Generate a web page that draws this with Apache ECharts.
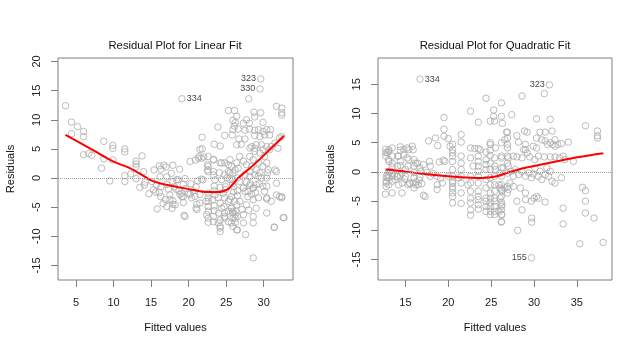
<!DOCTYPE html>
<html>
<head>
<meta charset="utf-8">
<script src="https://cdn.jsdelivr.net/npm/echarts@6/dist/echarts.min.js"></script>
<style>
  html, body { margin: 0; padding: 0; background: #ffffff; }
  #chart { width: 641px; height: 350px; }
</style>
</head>
<body>
<div id="chart"></div>
<script>
// residuals vs fitted values, linear fit (mpg ~ horsepower)
const linearPoints = [
  [3.6,12.4],[4.4,9.6],[4.4,7.6],[5.2,8.8],[6.0,8.0],[6.0,7.1],[6.0,4.0],[6.7,4.2],[7.1,3.9],[8.7,6.3],
  [8.4,1.7],[8.7,3.3],[9.5,-0.5],[9.9,5.6],[9.9,5.1],[9.9,3.1],[11.5,5.0],[11.5,4.5],[11.5,0.4],[11.5,-0.6],
  [12.3,0.7],[13.0,2.9],[13.0,2.4],[13.0,1.9],[13.0,-0.1],[13.8,3.8],[13.5,-1.6],[14.0,1.1],[14.2,-0.7],[14.1,-1.2],
  [14.7,-2.7],[15.1,-0.6],[15.3,-2.0],[15.4,1.4],[15.6,-2.4],[15.8,-5.3],
  [16.1,2.1],[16.3,1.5],[16.2,0.2],[15.7,-1.2],[16.3,-1.5],[16.1,-2.5],[16.3,-3.2],[16.7,2.2],[17.0,1.9],[17.1,0.2],
  [17.1,-1.1],[17.3,-1.9],[17.5,-2.9],[17.7,0.8],[17.9,2.2],[17.9,-0.6],[18.1,-1.5],[17.9,-3.9],[18.3,-1.9],[18.4,-0.3],
  [18.8,1.5],[19.1,-2.6],[19.1,-3.2],[19.3,-4.2],[19.5,-0.1],[19.6,-1.8],[19.5,-6.6],[19.4,-6.4],[16.6,-4.4],[17.1,-4.9],
  [17.9,-4.5],[17.8,-5.2],[16.9,-3.7],[17.5,-3.7],[18.2,-4.6],[18.6,-0.3],[18.85,-2.8],[19.3,-3.2],[20.2,-2.8],[20.4,-3.4],
  [21.1,-4.5],[21.1,-5.4],[20.2,2.85],[20.9,3.1],[21.4,3.7],[21.7,3.4],[21.8,5.0],[21.8,7.0],[21.7,-0.2],[21.9,-0.3],
  [19.3,-1.1],[18.7,-2.2],[20.85,-3.15],[21.0,-5.15],[21.5,-4.3],[20.3,-1.0],[20.6,-2.2],[21.0,-1.5],[21.5,-2.8],[20.0,-2.6],
  [21.2,-0.5],
  [22.6,2.0],[22.6,1.1],[22.6,-2.6],[22.6,-3.4],[22.6,-4.0],[22.6,-4.9],[22.6,-5.7],[22.4,-6.3],[22.6,-6.9],[22.5,2.3],
  [22.5,1.4],[22.6,-7.6],[22.3,-4.0],
  [23.2,-3.7],[23.3,-6.6],[23.3,-7.5],[23.3,3.2],[23.3,1.1],[23.3,0.5],[23.4,-1.4],[23.4,-2.2],[23.4,-4.8],[23.4,-5.6],
  [24.0,-6.0],[24.2,-7.2],[24.2,-8.3],[24.2,-9.2],[23.95,-3.4],[24.2,-4.3],[24.4,-5.2],[23.5,-2.9],[24.4,-0.3],[23.5,-0.3],
  [23.95,-7.7],[24.2,-8.6],[24.2,-1.6],[24.1,0.9],[24.2,2.6],[23.9,8.75],
  [24.8,-3.4],[24.8,-6.0],[24.8,0.6],[24.6,-2.6],[24.8,-6.9],[25.3,-4.0],[25.3,-7.5],[25.3,1.1],[25.5,-0.3],[24.7,-4.9],
  [24.8,-6.6],[25.3,-5.7],[24.9,-1.5],[24.9,-2.0],
  [25.5,-3.7],[25.7,-5.15],[25.85,-6.0],[25.9,-6.9],[26.2,-7.6],[26.3,-5.7],[26.5,-6.6],[26.5,-8.9],[25.7,-3.2],[25.7,-5.2],
  [25.7,-7.7],[25.9,-5.7],[25.9,-8.3],[26.2,-6.3],[26.2,-6.9],[26.4,-4.6],[26.4,-8.9],[26.6,1.7],[26.0,-1.5],[26.0,-2.4],
  [26.5,-3.0],[26.1,-4.0],[26.5,-2.2],
  [26.8,-4.0],[27.3,-1.7],[27.5,-2.3],[27.7,-4.6],[27.3,-7.7],[27.6,-9.7],[27.9,-3.2],[28.4,-2.8],[28.6,-1.7],[28.6,-3.7],
  [28.6,-6.6],[28.6,-7.7],[29.0,-5.2],[29.3,-3.4],[30.1,-2.3],[30.4,-3.4],[30.4,-6.0],[31.0,-4.0],[31.4,-8.4],[31.7,-2.9],
  [32.1,-3.2],[32.4,-3.4],[32.6,-6.8],[28.6,-13.7],[27.1,-5.4],[27.3,-6.3],[28.0,-5.5],[28.9,-2.5],[29.4,-1.0],[28.2,-1.0],
  [28.0,13.6],[31.7,12.3],[32.4,12.0],[32.4,11.2],[32.4,10.8],[25.3,11.6],[26.1,11.6],[28.7,11.3],[29.6,11.2],[26.4,10.6],
  [28.8,10.5],[25.9,9.9],[26.2,9.5],[27.3,9.4],[27.7,10.0],[28.1,9.4],[29.9,9.55],[26.1,8.9],[25.9,8.3],[26.6,8.4],
  [27.5,8.2],[28.1,8.4],[28.8,8.2],[29.3,8.3],[29.9,8.0],[30.4,8.3],[30.9,8.3],[24.8,7.3],[25.8,7.4],[26.7,6.7],
  [27.5,6.7],[28.8,7.3],[29.5,7.1],[30.1,7.4],[30.8,7.4],[23.4,5.8],[24.2,5.5],[26.4,5.7],[27.0,5.8],[28.4,5.4],
  [28.8,5.1],[29.0,5.7],[29.7,5.7],[29.9,4.9],[30.4,5.4],[30.8,4.9],[31.0,5.4],[31.9,5.1],[31.5,6.0],[32.1,6.9],
  [32.4,7.1],[21.5,4.9],[21.3,3.4],[22.0,3.6],[22.6,3.7],[23.3,3.1],[24.4,2.6],[24.8,2.6],[25.3,2.3],
  [25.5,3.15],[25.7,2.0],[25.9,0.9],[26.2,1.4],[26.4,2.6],[26.8,3.7],[27.3,2.9],[27.7,2.3],[28.15,3.7],[28.4,2.0],
  [28.6,3.15],[29.0,1.4],[29.3,2.6],[29.5,0.9],[29.9,2.0],[30.1,3.7],[30.4,2.6],[30.6,1.4],[29.5,4.3],[28.8,4.6],
  [28.15,5.15],[25.5,0.9],[25.1,0.0],[25.9,-0.3],[26.5,0.0],[25.85,-1.0],[26.8,-0.6],[27.5,0.6],[28.15,1.1],[28.15,0.3],
  [28.8,0.6],[29.3,0.3],[29.7,0.0],[30.4,0.0],[30.5,0.9],[31.5,1.4],[31.7,1.1],[31.7,-0.9],[30.4,-1.4],[29.9,-1.4],
  [29.0,-1.15],[28.6,-1.7],[28.15,-1.3],[27.7,-0.7],[27.3,-1.7],[27.9,-2.3],[32.7,-6.8],[31.4,-8.5],[30.4,-3.6],[32.4,-3.2]
];
const linearTagged = [['334', 19.1, 13.6], ['323', 29.6, 17.0], ['330', 29.5, 15.3]];
const linearSmoothX = [3.6, 5, 7.5, 10, 11.8, 13.3, 15, 16.5, 18.2, 20.4, 22.6, 24.0, 25.3, 26.0, 26.6, 28.7, 30.5, 32.7];
const linearSmoothY = [7.4, 6.4, 4.6, 2.8, 1.9, 0.9, -0.4, -1.0, -1.45, -2.0, -2.4, -2.4, -1.85, -0.9, 0.0, 2.3, 4.5, 7.25];

// residuals vs fitted values, quadratic fit
const quadPoints = [
  [12.7,3.9],[12.7,3.3],[12.7,2.7],[12.75,-0.75],[12.75,-1.6],[12.75,-2.5],[12.67,-3.8],[12.75,-1.9],[12.87,-1.0],[12.98,-0.5],
  [13.06,3.8],[12.87,3.3],[13.06,2.1],[13.45,4.1],[13.25,0.1],[13.06,3.5],[13.06,1.8],[13.06,0.1],[13.06,-1.0],[13.06,-2.2],
  [13.45,2.7],[13.45,1.5],[13.45,0.85],[13.45,-0.2],[13.45,-0.75],[13.45,-1.6],[13.45,-3.6],
  [14.1,2.7],[14.1,1.0],[14.1,-0.75],[14.2,-2.2],[14.4,4.3],[14.4,3.7],[14.4,1.8],[14.4,1.1],[14.6,-0.2],[14.6,-1.9],[14.6,-3.6],
  [15.0,0.4],[15.0,-0.75],[15.2,4.1],[15.2,2.4],[15.3,1.0],[15.3,-2.2],[15.5,-1.9],
  [15.8,4.4],[15.9,3.8],[16.0,2.1],[16.0,1.0],[16.0,-0.1],[16.0,-1.0],[16.0,-2.75],[16.2,-2.2],[16.4,1.5],[16.6,-1.4],
  [16.7,0.7],[16.8,0.1],[17.1,1.25],[17.1,-4.0],[17.3,-4.2],[16.9,-2.0],
  [14.2,2.7],[14.8,3.8],[14.8,3.0],[15.4,3.8],[15.4,2.1],[16.2,1.5],[13.8,-1.3],[14.0,-0.8],[14.4,-0.7],[14.9,-1.2],
  [15.5,-2.0],[15.9,-1.9],[16.2,-1.7],[16.5,-2.2],[16.7,-0.9],
  [17.7,5.3],[18.5,5.8],[18.76,4.5],[18.95,1.7],[19.5,9.3],[19.5,7.3],[19.5,6.1],[20.0,5.7],[20.2,4.4],[20.0,-0.75],
  [18.7,-0.75],[18.7,-2.2],[18.7,-3.0],[17.9,1.0],[17.9,-0.75],[17.8,1.8],[19.6,1.8],[18.2,-0.3],[19.3,-1.9],[19.1,-1.1],
  [17.5,-0.1],[19.4,2.0],
  [20.5,4.7],[20.5,3.8],[20.5,3.25],[20.5,2.7],[20.5,1.8],[20.5,0.4],[20.5,-0.75],[20.5,-1.6],[20.5,-1.9],[20.5,-2.5],
  [20.5,-2.9],[20.5,-3.6],[20.5,-4.2],[20.5,-5.3],
  [21.5,6.4],[21.5,5.1],[21.5,2.7],[21.5,1.5],[21.5,0.4],[21.5,-0.75],[21.5,-1.9],[21.5,-3.6],[21.5,-5.4],[21.2,-1.0],
  [22.6,10.4],[22.6,4.1],[22.6,2.4],[22.6,-0.75],[22.6,-1.9],[22.6,-3.3],[22.6,-4.5],[22.6,-5.3],[22.6,-6.5],[22.6,-7.4],
  [22.3,-2.2],[22.9,1.0],
  [23.5,8.5],[23.5,4.0],[23.5,2.7],[23.5,1.8],[23.5,1.0],[23.5,0.1],[23.5,-0.75],[23.5,-1.9],[23.5,-3.3],[23.5,-4.2],
  [23.5,-4.75],[23.5,-5.6],[23.5,-6.35],[23.1,4.0],[23.7,3.8],
  [24.4,12.6],[24.4,3.4],[24.4,2.1],[24.4,1.25],[24.4,0.4],[24.4,-1.3],[24.4,-2.75],[24.4,-4.5],[24.4,-5.0],[24.4,-5.9],
  [24.4,-6.75],[24.9,4.7],[24.9,3.7],
  [24.9,8.7],[24.9,5.0],[24.9,2.8],[24.9,1.5],[24.9,0.4],[24.9,-1.0],[24.9,-2.2],[24.9,-3.6],[24.9,-4.5],[24.9,-5.3],
  [24.9,-5.9],[24.9,-6.75],[24.9,-7.3],
  [25.3,10.6],[25.3,9.5],[25.4,8.7],[25.4,2.4],[25.4,1.0],[25.4,-0.75],[25.4,-2.2],[25.4,-3.3],[25.4,-4.5],[25.4,-5.0],
  [25.4,-5.9],[25.4,-6.75],[25.4,-7.3],[25.5,4.1],
  [26.2,11.8],[26.2,9.5],[26.2,2.4],[26.2,0.7],[26.2,-0.75],[26.2,-2.2],[26.2,-3.0],[26.2,-4.2],[26.2,-5.2],[26.2,-5.9],
  [26.2,-6.5],[26.2,-7.3],[26.2,-8.6],[26.3,8.3],[26.2,5.0],[26.2,2.7],
  [26.9,6.8],[26.9,5.8],[26.9,4.7],[26.9,2.7],[26.9,1.5],[26.9,-0.2],[26.9,-2.5],[26.9,-3.6],
  [28.6,13.0],[27.4,9.8],[30.3,9.1],[31.9,9.0],[36.0,7.9],[37.4,7.0],[37.4,6.2],[37.4,5.8],[26.8,6.8],[28.0,6.2],
  [28.9,7.0],[29.2,6.8],[30.7,6.8],[31.3,6.8],[32.1,7.0],[26.6,5.5],[26.9,4.1],[28.2,5.1],[29.0,4.7],[29.0,3.8],
  [30.3,5.8],[30.3,4.1],[30.9,5.5],[31.3,5.3],[31.6,4.7],[31.9,5.0],[32.45,5.5],[32.45,4.4],[32.8,4.7],[33.2,4.86],
  [34.0,5.1],[27.0,2.4],[27.6,2.7],[28.0,2.57],[28.6,2.4],[29.2,3.25],[29.5,2.57],[30.1,2.1],[31.2,2.57],[31.9,2.57],
  [32.45,2.57],[33.4,2.7],[33.6,2.1],[31.2,13.4],[28.8,3.8],[29.9,4.4],[30.5,2.7],[32.2,4.7],[33.0,2.4],[34.6,1.8],
  [25.47,0.4],[26.05,-0.2],[26.4,0.7],[27.0,1.0],[27.3,0.1],[27.6,-0.75],[27.8,0.4],[28.2,-0.46],[28.6,0.1],[29.0,-0.75],
  [29.4,-0.2],[29.7,-1.0],[29.9,-0.35],[30.1,0.6],[30.5,-0.75],[30.7,0.1],[30.9,-1.3],[31.3,-0.46],[31.5,0.7],[31.7,-0.75],
  [31.9,0.1],[32.1,-1.6],[32.45,-1.9],[33.2,-1.0],
  [35.35,-12.3],[38.07,-12.07],[35.66,-2.64],[36.0,-3.2],[36.0,-5.0],[36.0,-7.04],[37.0,-7.9],[33.4,-6.2],[33.4,-8.9],[28.1,-10.0],
  [29.73,-7.9],[29.73,-8.6],[28.6,-6.5],[28.0,-5.0],[31.3,-5.15],[30.3,-4.2],[30.0,-4.5],[30.5,-4.5],[29.7,-5.0],[29.0,-3.6],
  [29.0,-4.75],[28.4,-2.75],[27.6,-2.5],[27.2,-1.9],[27.0,-3.0],[26.6,-2.75],[25.9,-2.2],[26.05,-2.75],[26.25,-3.3],[26.05,-4.47],
  [26.25,-5.6],[25.9,-6.75],[26.25,-7.3],[26.2,-8.5]
];
const quadTagged = [['334', 16.7, 15.9], ['323', 31.8, 14.9], ['155', 29.7, -14.7]];
const quadSmoothX = [12.7, 15, 17.5, 20, 22, 24, 25.5, 27, 29, 31, 33, 35, 38.1];
const quadSmoothY = [0.4, 0.05, -0.4, -0.75, -0.95, -1.05, -0.8, -0.1, 0.7, 1.3, 1.9, 2.5, 3.2];

const linearTicksX = [5, 10, 15, 20, 25, 30];
const linearTicksY = [-15, -10, -5, 0, 5, 10, 15, 20];
const quadTicksX = [15, 20, 25, 30, 35];
const quadTicksY = [-15, -10, -5, 0, 5, 10, 15];

const font = '"Liberation Sans", Arial, Helvetica, sans-serif';
const grey = '#7f7f7f';

const chart = echarts.init(document.getElementById('chart'));

function tagged(list) {
  return list.map(([id, x, y]) => ({
    value: [x, y],
    label: {
      show: true,
      formatter: id,
      position: id === '334' ? 'right' : 'left',
      distance: 1,
      fontSize: 9,
      fontFamily: font,
      color: '#111'
    }
  }));
}

function xAxis(idx, min, max, ticks) {
  return {
    gridIndex: idx, type: 'value', min, max,
    name: 'Fitted values', nameLocation: 'middle', nameGap: 42,
    nameTextStyle: { fontSize: 11, fontFamily: font, color: '#111' },
    axisLine: { show: false, onZero: false },
    axisTick: { show: true, length: 7, lineStyle: { color: grey }, customValues: ticks },
    axisLabel: { fontSize: 11, fontFamily: font, color: '#222', margin: 17, customValues: ticks },
    splitLine: { show: false }
  };
}

function yAxis(idx, min, max, ticks) {
  return {
    gridIndex: idx, type: 'value', min, max,
    name: 'Residuals', nameLocation: 'middle', nameGap: 42,
    nameTextStyle: { fontSize: 11, fontFamily: font, color: '#111' },
    axisLine: { show: false, onZero: false },
    axisTick: { show: true, length: 7, lineStyle: { color: grey }, customValues: ticks },
    axisLabel: { fontSize: 11, fontFamily: font, color: '#222', margin: 16, rotate: 90, customValues: ticks },
    splitLine: { show: false }
  };
}

function scatter(idx, pts, tags) {
  return {
    type: 'scatter', xAxisIndex: idx, yAxisIndex: idx,
    symbol: 'circle', symbolSize: 6.5,
    itemStyle: { color: 'rgba(0,0,0,0)', borderColor: '#ababab', borderWidth: 1 },
    data: pts.concat(tagged(tags)),
    markLine: {
      silent: true, symbol: 'none',
      lineStyle: { type: 'dotted', color: '#a0a0a0', width: 1 },
      label: { show: false },
      data: [{ yAxis: 0 }]
    },
    z: 2
  };
}

function smoothLine(idx, xs, ys) {
  return {
    type: 'line', xAxisIndex: idx, yAxisIndex: idx,
    smooth: 0.35, showSymbol: false,
    lineStyle: { color: '#ff0000', width: 2 },
    data: xs.map((x, i) => [x, ys[i]]),
    z: 3
  };
}

chart.setOption({
  animation: false,
  backgroundColor: '#ffffff',
  title: [
    { text: 'Residual Plot for Linear Fit', left: 175, top: 40, textAlign: 'center', padding: 0,
      textStyle: { fontSize: 11.3, fontWeight: 'normal', fontFamily: font, color: '#111' } },
    { text: 'Residual Plot for Quadratic Fit', left: 495, top: 40, textAlign: 'center', padding: 0,
      textStyle: { fontSize: 11.3, fontWeight: 'normal', fontFamily: font, color: '#111' } }
  ],
  grid: [
    { left: 58, top: 58, width: 235, height: 222, show: true, borderColor: grey, borderWidth: 1, backgroundColor: 'transparent' },
    { left: 378, top: 58, width: 234, height: 222, show: true, borderColor: grey, borderWidth: 1, backgroundColor: 'transparent' }
  ],
  xAxis: [xAxis(0, 2.6, 33.9, linearTicksX), xAxis(1, 11.8, 39.1, quadTicksX)],
  yAxis: [yAxis(0, -17.5, 20.6, linearTicksY), yAxis(1, -18.5, 19.5, quadTicksY)],
  series: [
    scatter(0, linearPoints, linearTagged),
    smoothLine(0, linearSmoothX, linearSmoothY),
    scatter(1, quadPoints, quadTagged),
    smoothLine(1, quadSmoothX, quadSmoothY)
  ]
});
</script>
</body>
</html>
